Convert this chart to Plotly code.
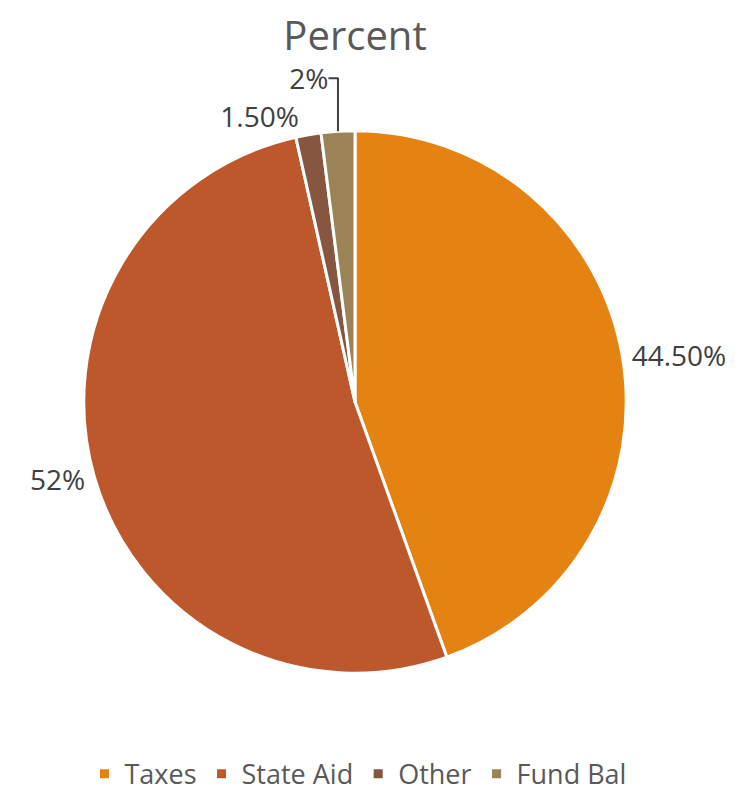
import plotly.graph_objects as go

categories = ["Taxes", "State Aid", "Other", "Fund Bal"]
values = [44.5, 52, 1.5, 2]
value_labels = ["44.50%", "52%", "1.50%", "2%"]
colors = ["#E48312", "#BD582C", "#865640", "#9B8357"]

W, H = 751, 791
cx, cy, r = 347, 398, 274

fig = go.Figure(go.Pie(
    labels=categories,
    values=values,
    text=value_labels,
    textinfo="text",
    textposition="outside",
    sort=False,
    direction="clockwise",
    rotation=0,
    marker=dict(colors=colors, line=dict(color="white", width=3)),
    textfont=dict(size=28, color="#404040", family="Open Sans"),
    domain=dict(x=[(cx - r) / W, (cx + r) / W], y=[1 - (cy + r) / H, 1 - (cy - r) / H]),
    showlegend=True,
    automargin=False,
))

fig.update_layout(
    width=W, height=H,
    margin=dict(l=0, r=0, t=0, b=0),
    paper_bgcolor="white",
    plot_bgcolor="white",
    title=dict(text="Percent", x=347 / W, xanchor="center", y=1 - 28 / H, yanchor="middle",
               font=dict(size=40, color="#595959", family="Open Sans")),
    legend=dict(orientation="h", x=350 / W, xanchor="center", y=1 - 774 / H, yanchor="middle",
                font=dict(size=27, color="#595959", family="Open Sans"),
                traceorder="normal"),
    font=dict(family="Open Sans"),
)

fig.write_html("out.html")
